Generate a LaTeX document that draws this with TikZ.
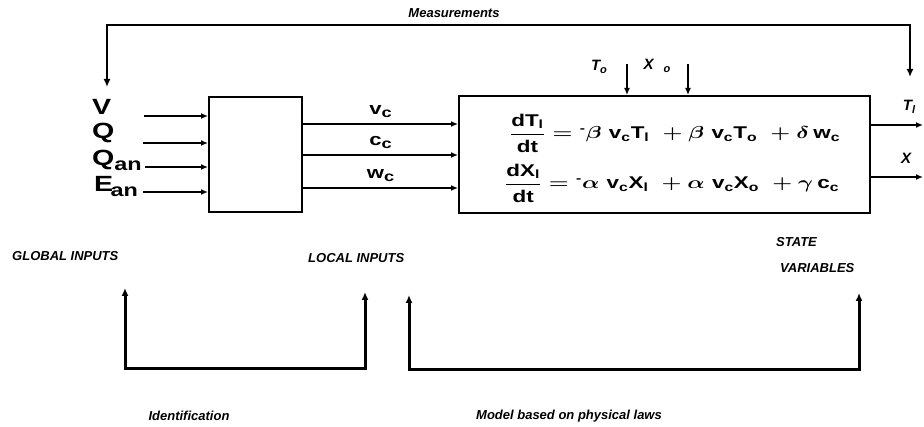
\documentclass[tikz,border=0pt]{standalone}
\usepackage{amsmath}
\usepackage{graphicx}
\usepackage{fontspec}
\setmainfont{Liberation Sans}
\usetikzlibrary{arrows.meta,positioning,calc}

\newcommand{\wide}[1]{\scalebox{1.3}[1]{#1}}

\begin{document}
\begin{tikzpicture}[x=1pt, y=-1pt,
    blk/.style={draw, line width=2pt, inner sep=0},
    lbl/.style={font=\fontsize{13}{15}\selectfont\bfseries\itshape, inner sep=0},
    tag/.style={font=\fontsize{15}{17}\selectfont\bfseries\itshape, inner sep=0},
    var/.style={font=\fontsize{22}{24}\selectfont\bfseries, inner sep=0, anchor=west},
    sig/.style={font=\fontsize{17}{19}\selectfont\bfseries, inner sep=0},
    eqn/.style={font=\fontsize{17}{19}\selectfont\bfseries\boldmath, inner sep=0},
    arr/.style={-{Latex[length=7pt,width=6pt]}, line width=2pt},
    both/.style={{Latex[length=8pt,width=7pt]}-{Latex[length=8pt,width=7pt]}, line width=2.2pt},
    brk/.style={{Latex[length=8pt,width=7pt]}-{Latex[length=8pt,width=7pt]}, line width=3pt}]

    \useasboundingbox (0,0) rectangle (924,427);

    % blocks
    \node[blk, minimum width=93pt, minimum height=115pt] (mix) at (255.5,154.5) {};
    \node[blk, minimum width=411pt, minimum height=117pt] (plant) at (664.5,154.5) {};

    \node[eqn] (eqT) at (675,133)
        {\scalebox{1.32}[1]{$\dfrac{\text{dT}_{\text{l}}}{\text{dt}} = {}^{\text{-}}\beta\;\text{v}_{\text{c}}\text{T}_{\text{l}} \;+\beta\;\text{v}_{\text{c}}\text{T}_{\text{o}} \;+\delta\,\text{w}_{\text{c}}$}};
    \node[eqn] (eqX) at (672,183)
        {\scalebox{1.32}[1]{$\dfrac{\text{dX}_{\text{l}}}{\text{dt}} = {}^{\text{-}}\alpha\;\text{v}_{\text{c}}\text{X}_{\text{l}} \;+\alpha\;\text{v}_{\text{c}}\text{X}_{\text{o}} \;+\gamma\,\text{c}_{\text{c}}$}};

    % global inputs
    \node[var] (V) at (92,107) {\wide{V}};
    \node[var] (Q) at (92,133) {\wide{Q}};
    \node[var] (Qan) at (92,160) {\wide{Q\raisebox{-5pt}{\fontsize{18}{20}\selectfont an}}};
    \node[var] (Ean) at (94,187) {\wide{E\kern-2pt\raisebox{-5pt}{\fontsize{18}{20}\selectfont an}}};

    \coordinate (inV) at (144,116);
    \coordinate (inQ) at (143,143);
    \coordinate (inQan) at (145,167);
    \coordinate (inEan) at (143,192);
    \foreach \c in {inV,inQ,inQan,inEan}
        \draw[arr] (\c) -- (\c -| mix.west);

    % local inputs
    \foreach \y/\s in {124/v, 155/c, 188/w}
        \draw[arr] (mix.east |- 0,\y) -- (plant.west |- 0,\y)
            node[sig, midway, above=5pt] {\wide{\s\raisebox{-3pt}{\fontsize{14}{15}\selectfont c}}};

    % disturbances
    \node[tag] (To) at (599,67) {T\raisebox{-3pt}{\fontsize{11}{12}\selectfont o}};
    \node[tag] (Xo) at (657,66) {X\hspace{10pt}\raisebox{-3pt}{\fontsize{11}{12}\selectfont o}};
    \coordinate (toIn) at (627,64);
    \coordinate (xoIn) at (688,64);
    \draw[arr] (toIn) -- (toIn |- plant.north);
    \draw[arr] (xoIn) -- (xoIn |- plant.north);

    % outputs
    \coordinate (TlOut) at (923,125);
    \coordinate (XlOut) at (923,177);
    \draw[arr] (plant.east |- TlOut) -- (TlOut);
    \draw[arr] (plant.east |- XlOut) -- (XlOut);
    \node[tag] (Tl) at (909,107) {T\raisebox{-3pt}{\fontsize{11}{12}\selectfont l}};
    \node[tag] (Xl) at (906,158) {X};

    % measurements loop
    \node[lbl] (meas) at (454,13) {Measurements};
    \coordinate (measR) at (910,77);
    \coordinate (measL) at (107,87);
    \draw[both] (measR) -- (measR |- 0,25) -- (measL |- 0,25) -- (measL);

    % bottom labels
    \node[lbl, anchor=west] (glob) at (12,256) {GLOBAL INPUTS};
    \node[lbl, anchor=west] (loc) at (308,258) {LOCAL INPUTS};
    \node[lbl, anchor=west] (state) at (776,242) {STATE};
    \node[lbl, anchor=west] (vars) at (780,268) {VARIABLES};

    \coordinate (idA) at (125,288);
    \coordinate (idB) at (365,292);
    \coordinate (mdA) at (409,295);
    \coordinate (mdB) at (859,293);
    \draw[brk] (idA) -- (idA |- 0,369) -- (idB |- 0,369) -- (idB);
    \draw[brk] (mdA) -- (mdA |- 0,370) -- (mdB |- 0,370) -- (mdB);

    \node[lbl] (ident) at (189,416) {Identification};
    \node[lbl] (model) at (569,416) {Model based on physical laws};
\end{tikzpicture}
\end{document}
